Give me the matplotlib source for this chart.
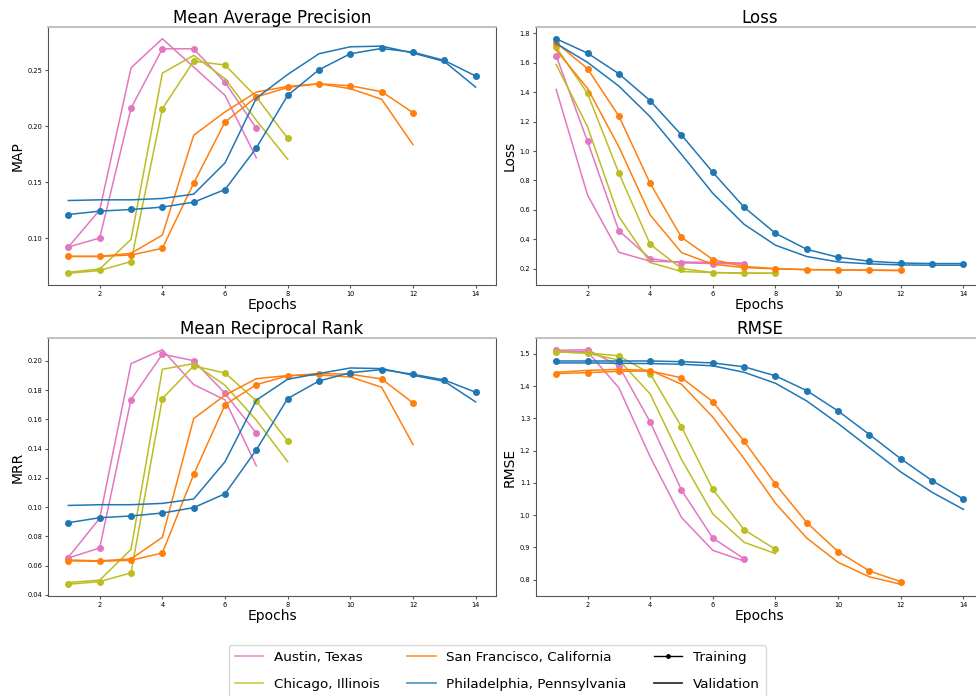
import matplotlib
matplotlib.use("Agg")
import matplotlib.pyplot as plt
from matplotlib.lines import Line2D

cities = ["Austin, Texas", "Chicago, Illinois", "San Francisco, California", "Philadelphia, Pennsylvania"]
colors = ["tab:pink", "tab:olive", "tab:orange", "tab:blue"]

# training / validation curves per city, one list per epoch
map_train = [
    [0.092, 0.100, 0.216, 0.269, 0.269, 0.239, 0.198],
    [0.0685, 0.071, 0.079, 0.2155, 0.258, 0.2545, 0.226, 0.189],
    [0.0836, 0.0836, 0.0848, 0.0908, 0.149, 0.2036, 0.226, 0.2345, 0.2378, 0.236, 0.2307, 0.212],
    [0.121, 0.124, 0.1255, 0.1276, 0.132, 0.1433, 0.1805, 0.2274, 0.2503, 0.2646, 0.2693, 0.266, 0.2586, 0.2447],
]
map_val = [
    [0.092, 0.125, 0.252, 0.278, 0.2527, 0.2274, 0.1716],
    [0.0694, 0.0723, 0.0988, 0.2473, 0.2631, 0.2423, 0.2051, 0.1704],
    [0.0836, 0.0836, 0.0863, 0.1026, 0.1918, 0.2126, 0.2304, 0.2354, 0.2378, 0.2334, 0.2239, 0.1834],
    [0.1335, 0.1341, 0.1341, 0.1353, 0.1392, 0.1671, 0.225, 0.2461, 0.2646, 0.2708, 0.2714, 0.2652, 0.2577, 0.2348],
]

loss_train = [
    [1.648, 1.066, 0.458, 0.268, 0.239, 0.234, 0.232],
    [1.707, 1.392, 0.850, 0.365, 0.200, 0.173, 0.168, 0.168],
    [1.737, 1.560, 1.238, 0.780, 0.413, 0.261, 0.214, 0.200, 0.193, 0.191, 0.189, 0.189],
    [1.764, 1.666, 1.526, 1.342, 1.109, 0.855, 0.617, 0.440, 0.331, 0.277, 0.250, 0.238, 0.234, 0.234],
]
loss_val = [
    [1.419, 0.701, 0.311, 0.250, 0.245, 0.242, 0.238],
    [1.589, 1.165, 0.554, 0.241, 0.180, 0.173, 0.170, 0.168],
    [1.687, 1.426, 1.029, 0.565, 0.309, 0.229, 0.207, 0.198, 0.193, 0.191, 0.189, 0.186],
    [1.732, 1.603, 1.442, 1.233, 0.977, 0.712, 0.501, 0.359, 0.282, 0.245, 0.232, 0.225, 0.223, 0.223],
]

mrr_train = [
    [0.0653, 0.0721, 0.1736, 0.2046, 0.2002, 0.1779, 0.1506],
    [0.0473, 0.0491, 0.0551, 0.1743, 0.1966, 0.1918, 0.1727, 0.1452],
    [0.0633, 0.063, 0.0637, 0.0687, 0.1224, 0.170, 0.1838, 0.1898, 0.1914, 0.1909, 0.1877, 0.1713],
    [0.0894, 0.0928, 0.094, 0.096, 0.0997, 0.1092, 0.1392, 0.1743, 0.1863, 0.192, 0.1941, 0.1909, 0.187, 0.1786],
]
mrr_val = [
    [0.0658, 0.0924, 0.1982, 0.2077, 0.1838, 0.1734, 0.1283],
    [0.0485, 0.0501, 0.0712, 0.1943, 0.1982, 0.1834, 0.1595, 0.1311],
    [0.0639, 0.0633, 0.0646, 0.0794, 0.1606, 0.1766, 0.1879, 0.190, 0.1904, 0.1891, 0.182, 0.1429],
    [0.1012, 0.1017, 0.1017, 0.1026, 0.1056, 0.1311, 0.1732, 0.1875, 0.1914, 0.1952, 0.1948, 0.1902, 0.1861, 0.172],
]

rmse_train = [
    [1.511, 1.513, 1.463, 1.289, 1.078, 0.929, 0.865],
    [1.506, 1.503, 1.494, 1.439, 1.274, 1.080, 0.955, 0.894],
    [1.439, 1.442, 1.446, 1.447, 1.426, 1.352, 1.229, 1.096, 0.977, 0.887, 0.827, 0.794],
    [1.478, 1.478, 1.478, 1.478, 1.476, 1.472, 1.460, 1.432, 1.386, 1.323, 1.250, 1.175, 1.107, 1.050],
]
rmse_val = [
    [1.509, 1.507, 1.395, 1.181, 0.993, 0.891, 0.858],
    [1.507, 1.502, 1.481, 1.376, 1.173, 1.004, 0.916, 0.881],
    [1.443, 1.449, 1.452, 1.449, 1.406, 1.304, 1.175, 1.037, 0.929, 0.854, 0.809, 0.786],
    [1.472, 1.472, 1.471, 1.470, 1.468, 1.463, 1.443, 1.409, 1.354, 1.284, 1.209, 1.134, 1.071, 1.018],
]

panels = [
    ("Mean Average Precision", "MAP", map_train, map_val),
    ("Loss", "Loss", loss_train, loss_val),
    ("Mean Reciprocal Rank", "MRR", mrr_train, mrr_val),
    ("RMSE", "RMSE", rmse_train, rmse_val),
]

fig = plt.figure(figsize=(9.76, 6.96), dpi=100)
w, h = 0.459, 0.3707
boxes = [(0.0492, 0.5905), (0.549, 0.5905), (0.0492, 0.1437), (0.549, 0.1437)]

for (title, ylab, train, val), (x0, y0) in zip(panels, boxes):
    ax = fig.add_axes([x0, y0, w, h])
    for tr, va, c in zip(train, val, colors):
        ep = list(range(1, len(tr) + 1))
        ax.plot(ep, tr, color=c, marker="o", markersize=4, linewidth=1.1)
        ax.plot(ep, va, color=c, linewidth=1.1)
    ax.set_title(title, fontsize=12, pad=3)
    ax.set_ylabel(ylab, fontsize=10, labelpad=2)
    ax.set_xlabel("Epochs", fontsize=10, labelpad=1)
    ax.tick_params(labelsize=4.8, length=2.5, pad=1.5, color="#555555")
    for s in ["left", "bottom", "right"]:
        ax.spines[s].set_color("#555555")
    ax.spines["top"].set_color("#bbbbbb")
    ax.spines["top"].set_linewidth(1.3)

handles = [Line2D([], [], color=c, alpha=0.75, linewidth=1.3) for c in colors]
handles.append(Line2D([], [], color="black", marker="o", markersize=2.5, linewidth=1))
handles.append(Line2D([], [], color="#333333", linewidth=1.3))
labels = cities + ["Training", "Validation"]
fig.legend(handles, labels, loc="upper center", bbox_to_anchor=(0.5097, 1 - 645 / 696),
           ncol=3, fontsize=9.7, frameon=True, borderaxespad=0,
           columnspacing=2.05, handlelength=2.1, handletextpad=0.8,
           labelspacing=1.05, borderpad=0.45)

fig.savefig("out.png", dpi=100)
